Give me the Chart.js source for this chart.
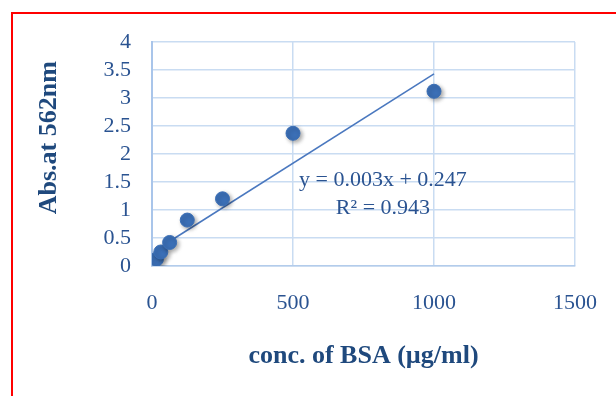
<!DOCTYPE html>
<html>
<head>
<meta charset="utf-8">
<script src="https://cdn.jsdelivr.net/npm/chart.js@4"></script>
<style>
  html, body { margin: 0; padding: 0; background: #fff; overflow: hidden; }
  #wrap { position: relative; width: 616px; height: 396px; }
  #frame { position: absolute; left: 11px; top: 12px; width: 700px; height: 500px;
           border-top: 2px solid #ff0000; border-left: 2px solid #ff0000; }
  #myChart { position: absolute; left: 0; top: 0; }
</style>
</head>
<body>
<div id="wrap">
  <div id="frame"></div>
  <canvas id="myChart" width="616" height="396"></canvas>
</div>
<script>
const ctx = document.getElementById('myChart');

// BSA standards
const conc = [15.625, 31.25, 62.5, 125, 250, 500, 1000];
const absorb = [0.12, 0.25, 0.42, 0.82, 1.2, 2.37, 3.12];

// trendline ends (as drawn in the picture)
const trendX = [15.625, 1000];
const trendY = [0.29, 3.43];

const eqLines = ['y = 0.003x + 0.247', 'R\u00b2 = 0.943'];

const textBlue = '#1f497d';
const tickBlue = '#2a5391';
const gridBlue = '#c9dcf2';

// soft shadow under the markers
const shadowPlugin = {
  id: 'shadow',
  beforeDatasetDraw(chart, args) {
    if (args.index !== 0) return;
    const c = chart.ctx;
    c.save();
    c.shadowColor = 'rgba(0,0,0,0.35)';
    c.shadowBlur = 4;
    c.shadowOffsetX = 2;
    c.shadowOffsetY = 2;
  },
  afterDatasetDraw(chart, args) {
    if (args.index !== 0) return;
    chart.ctx.restore();
  }
};

// trendline equation text
const equationPlugin = {
  id: 'equation',
  afterDatasetsDraw(chart) {
    const c = chart.ctx;
    const x = chart.scales.x.getPixelForValue(819);
    c.save();
    c.font = '22px "Liberation Serif", "Times New Roman", serif';
    c.fillStyle = tickBlue;
    c.textAlign = 'center';
    c.textBaseline = 'middle';
    c.fillText(eqLines[0], x, chart.scales.y.getPixelForValue(1.54));
    c.fillText(eqLines[1], x, chart.scales.y.getPixelForValue(1.04));
    c.restore();
  }
};

new Chart(ctx, {
  type: 'scatter',
  data: {
    datasets: [{
      label: 'Abs',
      data: conc.map((v, i) => ({ x: v, y: absorb[i] })),
      backgroundColor: '#3b6fb6',
      borderColor: '#3b6fb6',
      pointRadius: 7,
      pointHoverRadius: 7
    }, {
      label: 'Linear',
      data: trendX.map((v, i) => ({ x: v, y: trendY[i] })),
      showLine: true,
      borderColor: '#4a78bf',
      borderWidth: 1.6,
      pointRadius: 0
    }]
  },
  options: {
    responsive: false,
    animation: false,
    layout: { padding: { left: 0, right: 41, top: 42, bottom: 0 } },
    plugins: {
      legend: { display: false },
      tooltip: { enabled: false }
    },
    scales: {
      x: {
        min: 0,
        max: 1500,
        afterFit: function(scale) {
          scale.height = 130;
          scale.paddingLeft = 0;
          scale.paddingRight = 0;
        },
        ticks: {
          stepSize: 500,
          padding: 24,
          autoSkip: false,
          maxRotation: 0,
          color: tickBlue,
          callback: v => String(v),
          font: { family: '"Liberation Serif", "Times New Roman", serif', size: 22 }
        },
        grid: { color: gridBlue, lineWidth: 1.5, drawTicks: false },
        border: { color: '#b3cceb', width: 1.5 },
        title: {
          display: true,
          text: 'conc. of BSA (\u00b5g/ml)',
          color: textBlue,
          padding: { top: 0, bottom: 24 },
          font: { family: '"Liberation Serif", "Times New Roman", serif', size: 26, weight: 'bold' }
        }
      },
      y: {
        min: 0,
        max: 4,
        afterFit: function(scale) {
          scale.width = 152;
          scale.paddingTop = 0;
          scale.paddingBottom = 0;
        },
        ticks: {
          stepSize: 0.5,
          padding: 21,
          autoSkip: false,
          color: tickBlue,
          callback: v => String(v),
          font: { family: '"Liberation Serif", "Times New Roman", serif', size: 22 }
        },
        grid: { color: gridBlue, lineWidth: 1.5, drawTicks: false },
        border: { color: '#a9c5ea', width: 2 },
        title: {
          display: true,
          text: '     Abs.at 562nm',
          color: textBlue,
          padding: { top: 34, bottom: 0 },
          font: { family: '"Liberation Serif", "Times New Roman", serif', size: 26, weight: 'bold' }
        }
      }
    }
  },
  plugins: [shadowPlugin, equationPlugin]
});
</script>
</body>
</html>
